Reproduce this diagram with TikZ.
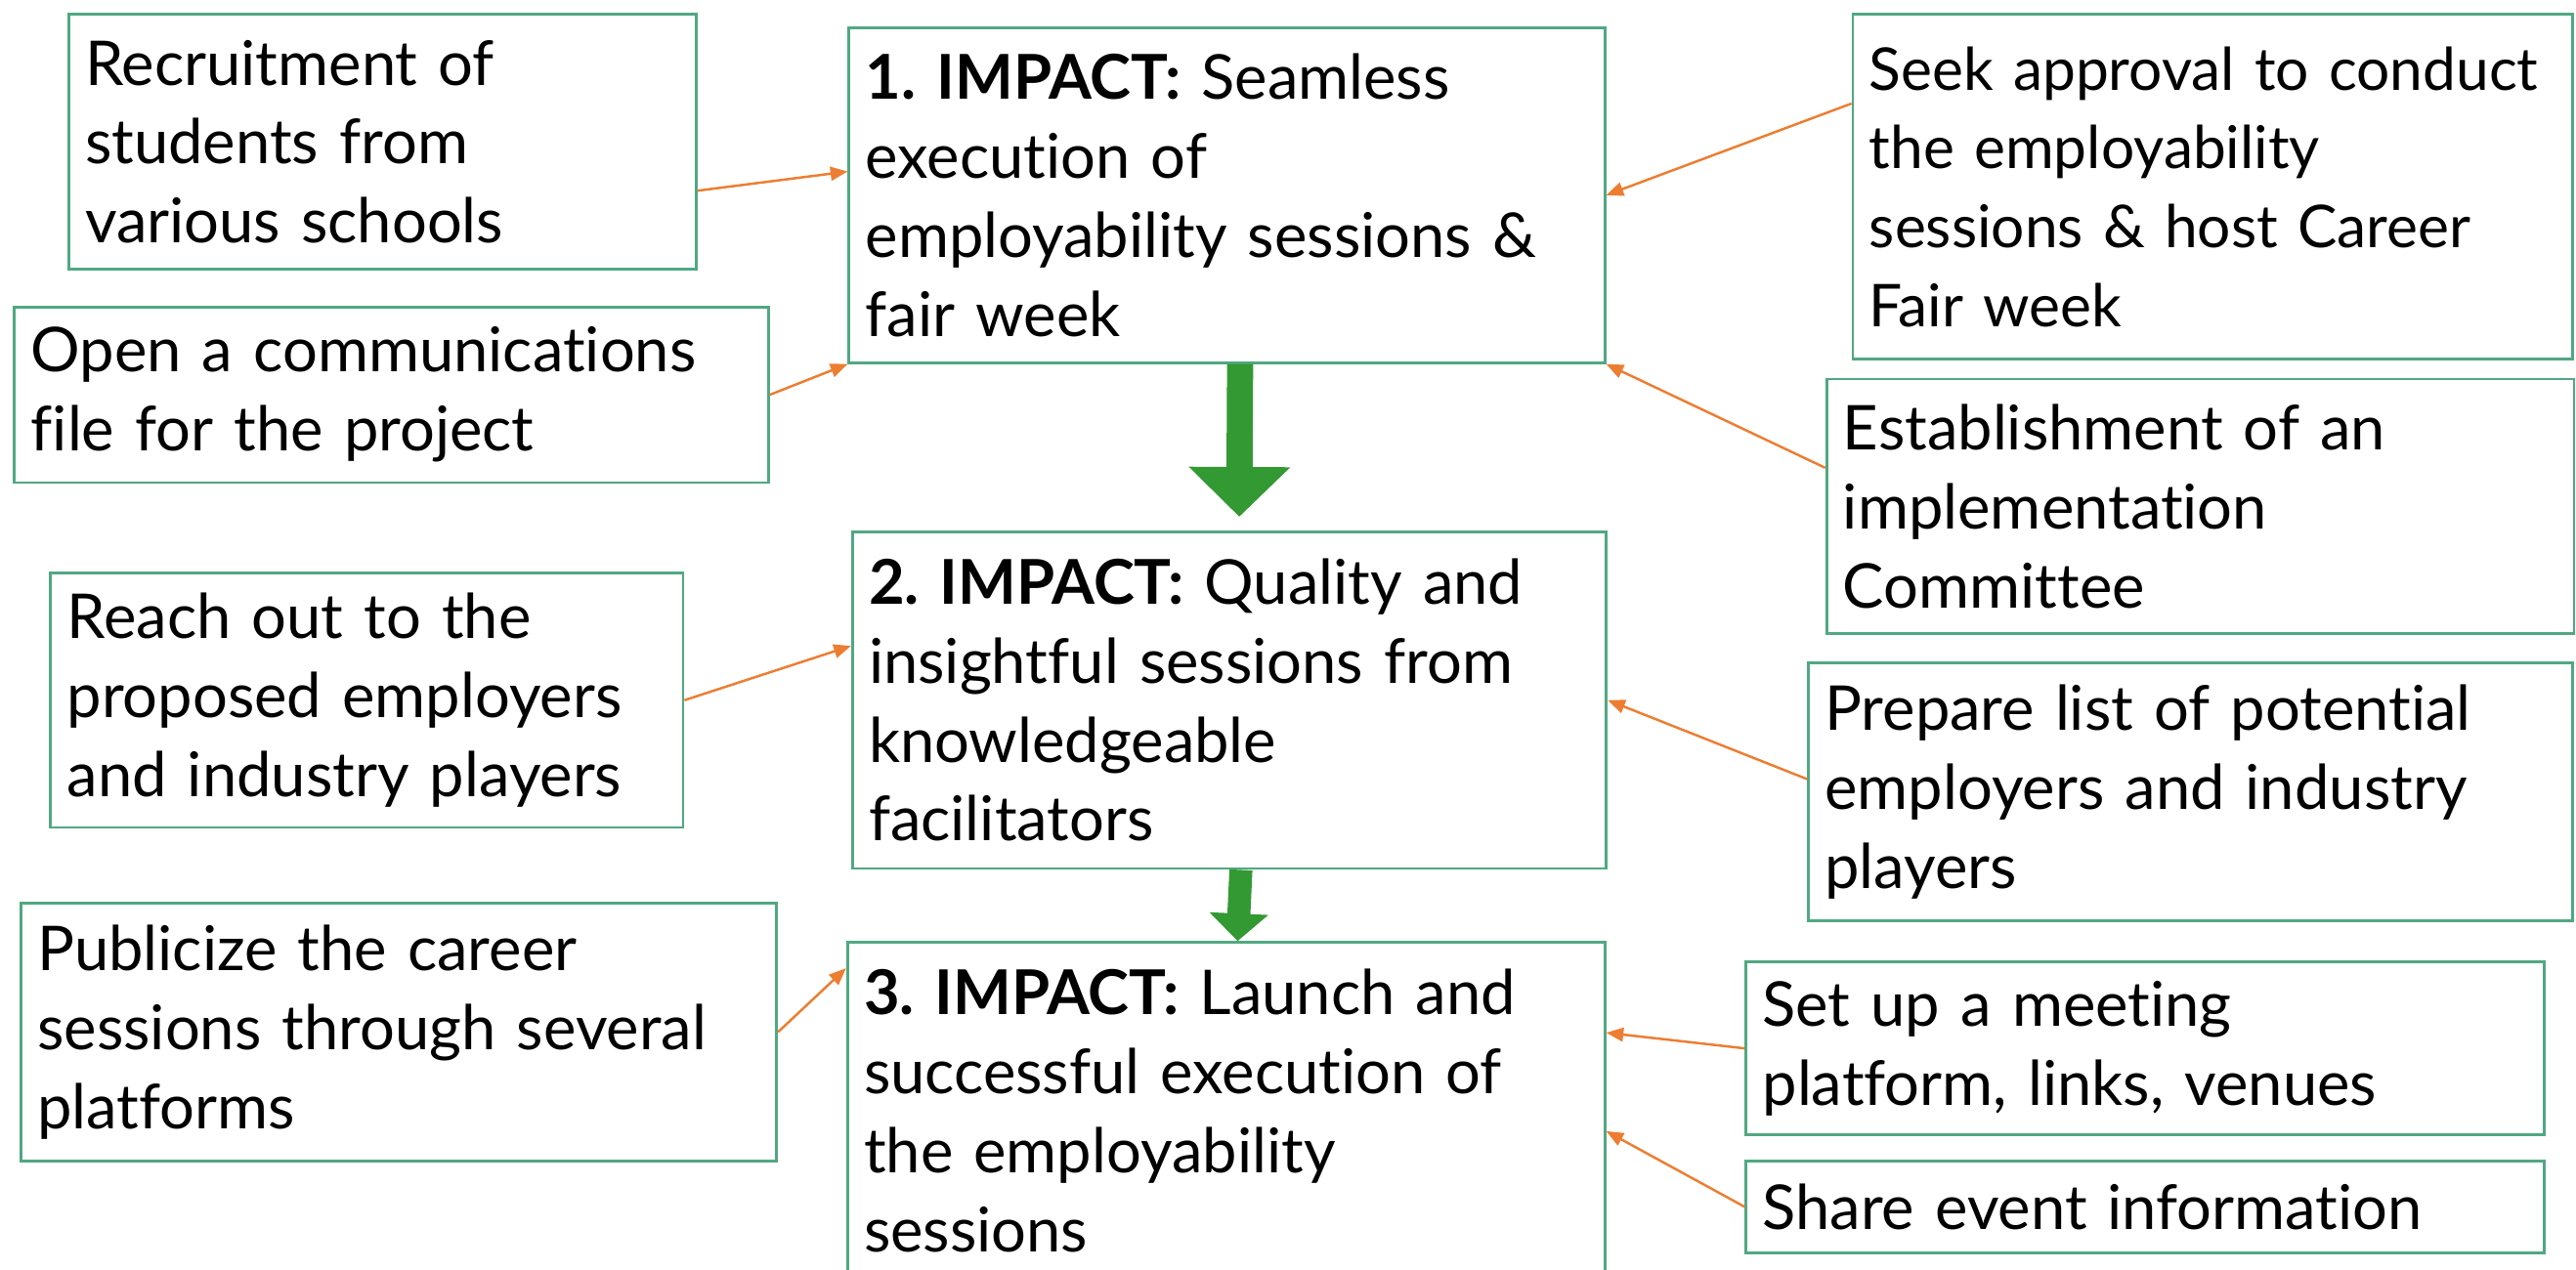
\documentclass[tikz,border=0pt]{standalone}
\usepackage{fontspec}
\setmainfont{Lato}[Ligatures=NoCommon]
\usepackage{tikz}
\usetikzlibrary{arrows.meta,calc}
\newlength\unitpx
\setlength\unitpx{0.01681cm}
\definecolor{boxgreen}{RGB}{80,168,130}
\definecolor{linkorange}{RGB}{237,125,49}
\definecolor{flowgreen}{RGB}{51,153,51}

\begin{document}
\begin{tikzpicture}[x=0.01681cm, y=-0.01681cm,
    box/.style = {draw=boxgreen, line width=0.8pt, fill=white, anchor=north west, align=left,
        inner xsep=10\unitpx, inner ysep=0pt, font=\fontsize{18}{23}\selectfont},
    link/.style = {draw=linkorange, line width=0.7pt, -{Triangle[length=5pt,width=4pt]}},
    flow/.style = {draw=flowgreen}]
                \fill[white] (0,0) rectangle (1568,773);
                \useasboundingbox (0,0) rectangle (1568,773);
                \node[box, text width=362\unitpx, minimum height=155\unitpx] (rec) at (41,8) {Recruitment of\\students from\\various schools};
                \node[box, text width=439\unitpx, minimum height=107\unitpx] (comm) at (8,186) {Open a communications\\file for the project};
                \node[box, text width=440\unitpx, minimum height=204\unitpx] (imp1) at (516,16) {\textbf{1.\ IMPACT:} Seamless\\execution of\\employability sessions \&\\fair week};
                \node[box, text width=418\unitpx, minimum height=210\unitpx, font=\fontsize{17.2}{23}\selectfont] (seek) at (1127,8) {Seek approval to conduct\\the employability\\sessions \& host Career\\Fair week};
                \node[box, text width=435\unitpx, minimum height=155\unitpx] (est) at (1111,230) {Establishment of an\\implementation\\Committee};
                \node[box, text width=439\unitpx, minimum height=205\unitpx] (imp2) at (518,323) {\textbf{2.\ IMPACT:} Quality and\\insightful sessions from\\knowledgeable\\facilitators};
                \node[box, text width=365\unitpx, minimum height=155\unitpx] (reach) at (30,348) {Reach out to the\\proposed employers\\and industry players};
                \node[box, text width=445\unitpx, minimum height=157\unitpx] (prep) at (1100,403) {Prepare list of potential\\employers and industry\\players};
                \node[box, text width=441\unitpx, minimum height=205\unitpx] (imp3) at (515,573) {\textbf{3.\ IMPACT:} Launch and\\successful execution of\\the employability\\sessions};
                \node[box, text width=440\unitpx, minimum height=157\unitpx] (pub) at (12,549) {Publicize the career\\sessions through several\\platforms};
                \node[box, text width=466\unitpx, minimum height=105\unitpx] (setup) at (1062,585) {Set up a meeting\\platform, links, venues};
                \node[box, text width=466\unitpx, minimum height=56\unitpx] (share) at (1062,706) {Share event information};
                % big arrows between the impact boxes
                \draw[flow, line width=7.6pt, -{Triangle[length=14.5pt,width=28.7pt]}] ([xshift=8\unitpx]imp1.south) -- ([xshift=6\unitpx, yshift=4pt]imp2.north);
                \draw[flow, line width=6.7pt, -{Triangle[length=8pt,width=16.7pt]}] ([xshift=7\unitpx]imp2.south) -- ([xshift=7\unitpx]imp3.north);
                % activities feeding each impact
                \draw[link] ($(rec.north east)!0.69!(rec.south east)$) -- ($(imp1.north west)!0.43!(imp1.south west)$);
                \draw[link] (comm.east) -- (imp1.south west);
                \draw[link] ($(seek.north west)!0.26!(seek.south west)$) -- (imp1.east);
                \draw[link] ($(est.north west)!0.35!(est.south west)$) -- (imp1.south east);
                \draw[link] (reach.east) -- ($(imp2.north west)!0.34!(imp2.south west)$);
                \draw[link] ($(prep.north west)!0.45!(prep.south west)$) -- (imp2.east);
                \draw[link] (pub.east) -- ($(imp3.north west)!0.08!(imp3.south west)$);
                \draw[link] (setup.west) -- ($(imp3.north east)!0.27!(imp3.south east)$);
                \draw[link] (share.west) -- ($(imp3.north east)!0.56!(imp3.south east)$);
\end{tikzpicture}
\end{document}
